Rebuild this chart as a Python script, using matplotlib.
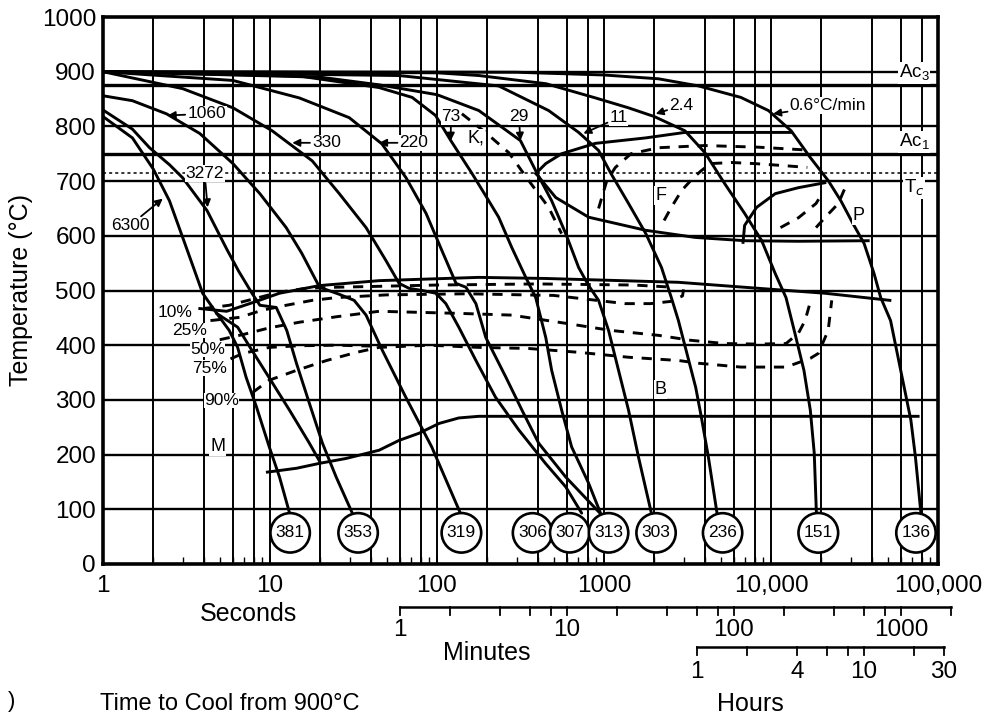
import matplotlib
matplotlib.use("Agg")
import matplotlib.pyplot as plt
from matplotlib.transforms import blended_transform_factory

plt.rcParams['font.family'] = ['Liberation Sans', 'DejaVu Sans']
plt.rcParams['mathtext.fontset'] = 'custom'
plt.rcParams['mathtext.rm'] = 'Liberation Sans'

# ---------------- data (time in seconds, temperature in degC) ----------------
c6300_t = [1, 1.5, 2.0, 2.5, 3.0, 3.5, 3.95, 4.8, 5.7, 6.4, 7.2, 8.3, 9.9, 11.4, 13.1]
c6300_T = [818, 779, 722, 664, 597, 540, 495, 458, 427, 396, 341, 287, 214, 159, 93]

c3272_t = [1, 1.5, 1.9, 2.5, 3.0, 4.2, 5.5, 6.5, 7.8, 8.7, 10.9, 12.6, 14.4, 17.2, 20.6, 24.9, 31.1]
c3272_T = [830, 795, 761, 730, 706, 646, 576, 535, 495, 473, 469, 427, 367, 294, 221, 159, 93]

branch_t = [4.8, 6.4, 7.6, 9.5, 13.1, 17.2, 19.8]
branch_T = [458, 433, 396, 349, 281, 221, 188]

c1060_t = [1, 1.5, 2.4, 3.8, 6.0, 8.7, 12.5, 15.5, 19.8, 26, 31.9, 37.6, 47, 65, 93, 138]
c1060_T = [856, 847, 823, 787, 732, 677, 615, 568, 506, 493, 482, 455, 391, 305, 214, 93]

c330_t = [1, 3, 6, 10.3, 17.9, 26, 37.6, 49.4, 59.3, 68, 81.5, 98.5, 113, 135, 171, 224, 309, 446, 590, 735]
c330_T = [900, 869, 834, 792, 737, 677, 615, 555, 513, 504, 500, 495, 476, 433, 372, 305, 245, 184, 141, 93]

c220_t = [1, 6, 15, 29.8, 46.8, 65.3, 86, 107, 130, 149, 171, 196, 259, 323, 406, 590, 946]
c220_T = [900, 884, 852, 816, 768, 706, 641, 573, 513, 506, 476, 414, 341, 281, 221, 159, 93]

c73_t = [1, 15, 45, 71, 98, 121, 162, 195, 234, 280, 340, 390, 448, 486, 558, 640, 808, 953]
c73_T = [900, 892, 871, 853, 820, 774, 714, 674, 634, 579, 524, 487, 414, 354, 281, 214, 148, 93]

c29_t = [1, 20, 45, 100, 178, 316, 390, 486, 590, 705, 809, 928, 1065, 1222, 1403, 1610, 1922]
c29_T = [900, 890, 876, 858, 829, 774, 719, 664, 604, 542, 509, 482, 427, 354, 281, 195, 93]

c11_t = [1, 59, 234, 466, 705, 928, 1100, 1403, 1780, 2210, 2530, 2790, 3070, 3540, 3830, 4220, 4750]
c11_T = [900, 893, 874, 829, 789, 756, 714, 659, 604, 542, 487, 445, 396, 323, 268, 195, 93]

c24_t = [1, 100, 178, 450, 890, 1400, 2000, 3050, 4020, 5290, 6950, 8800, 10600, 12300, 13900, 15750, 17200, 18150, 18700]
c24_T = [900, 898, 893, 878, 852, 834, 818, 792, 752, 695, 641, 591, 531, 487, 422, 354, 281, 203, 93]

c06_t = [1, 300, 1000, 2120, 3680, 6600, 9650, 13200, 17200, 22000, 26200, 31000, 36100, 41400, 45400, 52000, 59800, 68800, 73300, 79000]
c06_T = [900, 899, 894, 887, 874, 853, 829, 792, 743, 701, 664, 622, 586, 531, 487, 445, 354, 263, 195, 93]

rate_labels = ['6300', '3272', '1060', '330', '220', '73', '29', '11', '2.4', '0.6°C/min']
hardness = ['381', '353', '319', '306', '307', '313', '303', '236', '151', '136']
hard_t = [13.2, 33.7, 140, 373, 623, 1065, 2050, 5130, 19200, 73800]

# transformation lines
ms_t = [9.65, 14.4, 19.8, 28.6, 45, 59.3, 78, 103, 135, 178, 76000]
ms_T = [168, 175, 184, 193, 208, 226, 239, 257, 267, 270, 270]

bs_t = [3.8, 5.5, 7.9, 11.4, 19.8, 45, 178, 446, 2790, 8400, 21000, 51500]
bs_T = [467, 462, 478, 495, 509, 518, 524, 522, 515, 504, 495, 482]

b10_t = [4.0, 5.7, 8.3, 11.4, 16.5, 25, 36, 100, 400, 1500, 2600]
b10_T = [467, 473, 486, 497, 504, 506, 507, 510, 512, 510, 506]
b25_t = [4.4, 6.6, 9.0, 12.5, 17.9, 25, 50, 150, 500, 1340, 1900, 2500, 2950, 3000]
b25_T = [445, 451, 464, 473, 482, 487, 492, 494, 491, 476, 476, 480, 490, 502]
b50_t = [5.0, 7, 10, 15, 25, 45, 141, 280, 590, 1100, 2120, 3300, 5300, 8400, 12300, 14600, 16000, 17300]
b50_T = [410, 420, 432, 442, 452, 462, 458, 455, 440, 427, 418, 409, 403, 402, 403, 422, 445, 482]
b75_t = [5.8, 6.9, 9.9, 15, 25, 45]
b75_T = [375, 385, 396, 399, 400, 398]
b90_t = [7.9, 9.9, 14.4, 21.8, 33, 45, 90, 178, 354, 705, 1400, 2800, 3680, 6600, 12300, 17200, 19200, 22000, 23100]
b90_T = [314, 336, 354, 372, 387, 396, 400, 396, 394, 387, 378, 372, 367, 360, 360, 376, 385, 427, 482]

fs_t = [391, 448, 557, 888, 1780, 3050, 13200]
fs_T = [714, 732, 750, 769, 779, 789, 789]
ff_t = [391, 514, 809, 1780, 3530, 7000, 14600, 38200]
ff_T = [714, 670, 634, 610, 597, 591, 590, 591]
ps_t = [6800, 6950, 8200, 10600, 14600, 21000]
ps_T = [588, 619, 652, 677, 688, 697]

f1_t = [928, 1040, 1170, 1450, 2120, 4000, 8400, 16000]
f1_T = [650, 701, 725, 750, 761, 765, 762, 757]
f2_t = [2290, 2530, 2920, 3400, 3820, 4350, 5800, 8000, 12300, 16500]
f2_T = [628, 652, 683, 705, 719, 732, 734, 732, 728, 725]
p1_t = [11400, 14600, 18600, 20500]
p1_T = [615, 633, 659, 680]
p2_t = [18600, 21000, 25300, 27800]
p2_T = [615, 633, 659, 688]
k_t = [141, 195, 269, 354, 466, 557]
k_T = [823, 789, 752, 701, 652, 604]

Ac3, Ac1, Tc = 875, 750, 715

# ---------------- figure ----------------
W, H = 986, 716
fig = plt.figure(figsize=(W / 100, H / 100), dpi=100)
L, R, T0, B0 = 103, 938, 17, 564
ax = fig.add_axes([L / W, 1 - B0 / H, (R - L) / W, (B0 - T0) / H])
ax.set_xscale('log')
ax.set_xlim(1, 1e5)
ax.set_ylim(0, 1000)

# grid
for d in [1, 10, 100, 1000, 10000]:
    for m in [1, 2, 4, 6, 8]:
        ax.axvline(m * d, color='black', lw=1.4, zorder=1)
for v in range(100, 1000, 100):
    ax.axhline(v, color='black', lw=1.7, zorder=1)
ax.axhline(Ac3, color='black', lw=2.4, zorder=2)
ax.axhline(Ac1, color='black', lw=2.4, zorder=2)
ax.axhline(Tc, color='black', lw=1.1, ls=(0, (2, 2)), zorder=2)

for s in ax.spines.values():
    s.set_linewidth(2.6)

ax.set_yticks(range(0, 1001, 100))
ax.set_yticklabels([str(v) for v in range(0, 1001, 100)], fontsize=17.5)
ax.set_xticks([1, 10, 100, 1000, 1e4, 1e5])
ax.set_xticklabels(['1', '10', '100', '1000', '10,000', '100,000'], fontsize=17.5)
ax.tick_params(axis='y', length=0, pad=5)
ax.tick_params(axis='x', which='major', direction='in', length=6, width=1.2, pad=8)
ax.tick_params(axis='x', which='minor', direction='in', length=5, width=1.0)
ax.set_ylabel('Temperature (°C)', fontsize=18, labelpad=6)

# curves
curves = [(c6300_t, c6300_T), (c3272_t, c3272_T), (c1060_t, c1060_T), (c330_t, c330_T),
          (c220_t, c220_T), (c73_t, c73_T), (c29_t, c29_T), (c11_t, c11_T),
          (c24_t, c24_T), (c06_t, c06_T)]
for t, T in curves:
    ax.plot(t, T, color='black', lw=2.1, zorder=3, solid_capstyle='round')
ax.plot(branch_t, branch_T, color='black', lw=2.1, zorder=3)

for t, T in [(ms_t, ms_T), (bs_t, bs_T), (fs_t, fs_T), (ff_t, ff_T), (ps_t, ps_T)]:
    ax.plot(t, T, color='black', lw=2.1, zorder=3)

dash = (0, (3.5, 3))
for t, T in [(b10_t, b10_T), (b25_t, b25_T), (b50_t, b50_T), (b75_t, b75_T), (b90_t, b90_T),
             (f1_t, f1_T), (f2_t, f2_T), (p1_t, p1_T), (p2_t, p2_T), (k_t, k_T)]:
    ax.plot(t, T, color='black', lw=2.1, ls=dash, zorder=3)

# hardness circles
for tx, h in zip(hard_t, hardness):
    ax.text(tx, 57, h, ha='center', va='center', fontsize=12.5, zorder=6,
            bbox=dict(boxstyle='circle,pad=0.3', fc='white', ec='black', lw=1.9))

# rate labels with arrows
wb = dict(fc='white', ec='none', pad=0.5)
arrows = [
    ('6300', (2.28, 668), (1.45, 619)),
    ('3272', (4.23, 652), (4.06, 714)),
    ('1060', (2.44, 820), (4.17, 823)),
    ('330', (13.6, 770), (21.8, 770)),
    ('220', (45, 770), (72.8, 770)),
    ('73', (121, 774), (121, 818)),
    ('29', (316, 774), (309, 818)),
    ('11', (753, 787), (1222, 816)),
    ('2.4', (2040, 823), (2900, 838)),
    ('0.6°C/min', (10300, 823), (21900, 838)),
]
for lab, tip, txt in arrows:
    ax.annotate(lab, xy=tip, xytext=txt, fontsize=12.5, ha='center', va='center', zorder=5,
                bbox=wb,
                arrowprops=dict(arrowstyle='-|>', color='black', lw=1.3,
                                mutation_scale=11, shrinkA=1, shrinkB=0))

# region / phase labels
for txt, x, y in [('F', 2180, 674), ('P', 33300, 637), ('B', 2180, 319), ('M', 4.86, 214),
                  ('K,', 171, 778)]:
    ax.text(x, y, txt, fontsize=13, ha='center', va='center', zorder=5, bbox=wb)
for txt, x, y in [('Ac$_3$', 72000, 898), ('Ac$_1$', 72000, 772), ('T$_c$', 72000, 688)]:
    ax.text(x, y, txt, fontsize=13.5, ha='center', va='center', zorder=5, bbox=wb)
for txt, x, y in [('10%', 2.69, 460), ('25%', 3.31, 427), ('50%', 4.23, 392),
                  ('75%', 4.35, 358), ('90%', 5.13, 299)]:
    ax.text(x, y, txt, fontsize=12.5, ha='center', va='center', zorder=5,
            bbox=dict(fc='white', ec='none', pad=0.3))

# ---------------- secondary time scales ----------------
bt = blended_transform_factory(ax.transData, fig.transFigure)
def fy(py):
    return 1 - py / H

minute_ticks = [1, 2, 4, 6, 8, 10, 20, 40, 60, 80, 100, 200, 400, 600, 800, 1000, 2000]
minute_labels = {1: '1', 10: '10', 100: '100', 1000: '1000'}
hour_ticks = [1, 2, 4, 6, 8, 10, 20, 30]
hour_labels = {1: '1', 4: '4', 10: '10', 30: '30'}

ym = 607
ax.plot([60, 2000 * 60], [fy(ym), fy(ym)], transform=bt, color='black', lw=1.8, clip_on=False)
for m in minute_ticks:
    ax.plot([m * 60, m * 60], [fy(ym), fy(ym + 8)], transform=bt, color='black', lw=1.3, clip_on=False)
for m, s in minute_labels.items():
    ax.text(m * 60, fy(630), s, transform=bt, ha='center', va='center', fontsize=17.5)

yh = 647
ax.plot([3600, 30 * 3600], [fy(yh), fy(yh)], transform=bt, color='black', lw=1.8, clip_on=False)
for h in hour_ticks:
    ax.plot([h * 3600, h * 3600], [fy(yh), fy(yh + 8)], transform=bt, color='black', lw=1.3, clip_on=False)
for h, s in hour_labels.items():
    ax.text(h * 3600, fy(672), s, transform=bt, ha='center', va='center', fontsize=17.5)

fig.text(248 / W, fy(614), 'Seconds', ha='center', va='center', fontsize=18)
fig.text(487 / W, fy(653), 'Minutes', ha='center', va='center', fontsize=18)
fig.text(750 / W, fy(704), 'Hours', ha='center', va='center', fontsize=18)
fig.text(230 / W, fy(704), 'Time to Cool from 900°C', ha='center', va='center', fontsize=17)
fig.text(12 / W, fy(702), ')', ha='center', va='center', fontsize=16)

fig.savefig('out.png', dpi=100, facecolor='white')
